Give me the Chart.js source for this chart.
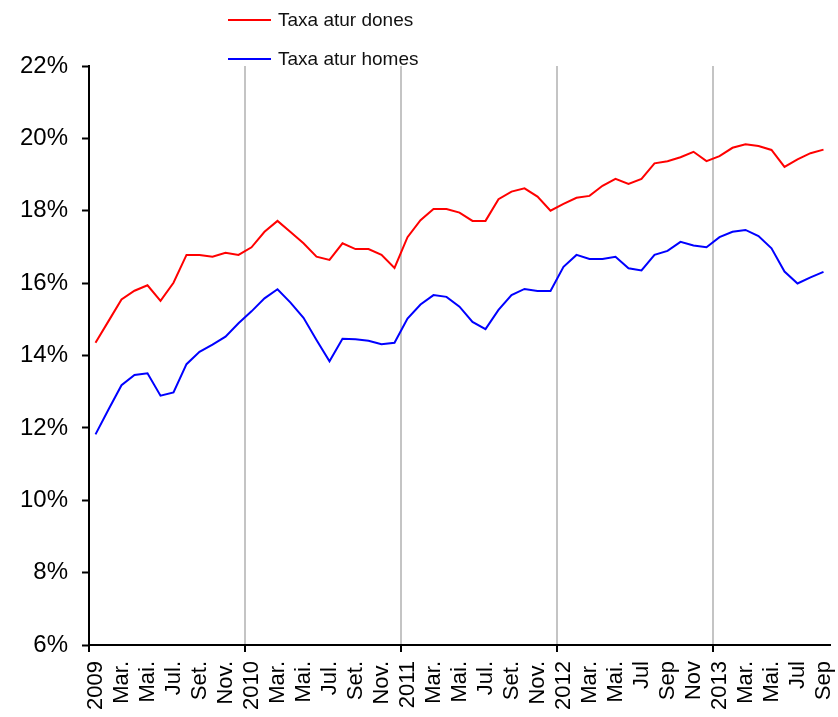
<!DOCTYPE html>
<html>
<head>
<meta charset="utf-8">
<script src="https://cdn.jsdelivr.net/npm/chart.js@4.4.1/dist/chart.umd.min.js"></script>
<style>
  body { margin: 0; background: #fff; }
  #wrap { width: 838px; height: 717px; position: relative; }
</style>
</head>
<body>
<div id="wrap"><canvas id="grafic"></canvas></div>
<script>
// Etiquetes de l'eix X (una de cada dos mensualitats, gener 2009 - setembre 2013)
const tickLabels = ['2009', 'Mar.', 'Mai.', 'Jul.', 'Set.', 'Nov.',
    '2010', 'Mar.', 'Mai.', 'Jul.', 'Set.', 'Nov.',
    '2011', 'Mar.', 'Mai.', 'Jul.', 'Set.', 'Nov.',
    '2012', 'Mar.', 'Mai.', 'Jul', 'Sep', 'Nov',
    '2013', 'Mar.', 'Mai.', 'Jul', 'Sep'];

// Taxa d'atur mensual (%)
const taxaDones = [14.35, 14.95, 15.55, 15.79, 15.94, 15.51, 16.01, 16.78, 16.78, 16.73, 16.84, 16.78,
    16.99, 17.42, 17.72, 17.41, 17.10, 16.73, 16.64, 17.10, 16.94, 16.94, 16.78, 16.42,
    17.27, 17.74, 18.05, 18.05, 17.95, 17.72, 17.72, 18.32, 18.53, 18.62, 18.39, 18.00,
    18.19, 18.36, 18.41, 18.69, 18.88, 18.74, 18.88, 19.31, 19.37, 19.48, 19.63, 19.37,
    19.51, 19.74, 19.84, 19.79, 19.68, 19.21, 19.42, 19.59, 19.69];

const taxaHomes = [11.82, 12.51, 13.18, 13.46, 13.51, 12.89, 12.98, 13.76, 14.10, 14.30, 14.52, 14.89,
    15.22, 15.58, 15.83, 15.46, 15.04, 14.43, 13.84, 14.46, 14.45, 14.41, 14.31, 14.35,
    15.02, 15.41, 15.67, 15.62, 15.35, 14.93, 14.73, 15.26, 15.67, 15.84, 15.78, 15.78,
    16.45, 16.78, 16.67, 16.67, 16.73, 16.41, 16.35, 16.78, 16.89, 17.14, 17.04, 16.99,
    17.27, 17.42, 17.47, 17.30, 16.96, 16.32, 15.99, 16.16, 16.31];

const yMin = 6;
const yMax = 22;
const yStep = 2;

// Una etiqueta per mes: només els mesos parells porten text
const labels = taxaDones.map((v, i) => (i % 2 === 0 ? tickLabels[i / 2] : ''));

const fontFamily = "'Liberation Sans', Arial, sans-serif";

// Llegenda dibuixada a mà (dues línies apilades a dalt)
const llegenda = {
    id: 'llegenda',
    afterDraw(chart) {
        const ctx = chart.ctx;
        ctx.save();
        ctx.font = '19px ' + fontFamily;
        ctx.textBaseline = 'middle';
        chart.data.datasets.forEach((ds, i) => {
            const y = 20 + i * 39;
            ctx.strokeStyle = ds.borderColor;
            ctx.lineWidth = 2;
            ctx.beginPath();
            ctx.moveTo(228, y);
            ctx.lineTo(271, y);
            ctx.stroke();
            ctx.fillStyle = '#111';
            ctx.fillText(ds.label, 278, y + 1);
        });
        ctx.restore();
    }
};

const config = {
    type: 'line',
    data: {
        labels: labels,
        datasets: [
            {
                label: 'Taxa atur dones',
                data: taxaDones,
                borderColor: '#ff0000',
                borderWidth: 2,
                pointRadius: 0,
                tension: 0,
            },
            {
                label: 'Taxa atur homes',
                data: taxaHomes,
                borderColor: '#0000ff',
                borderWidth: 2,
                pointRadius: 0,
                tension: 0,
            },
        ],
    },
    options: {
        responsive: true,
        maintainAspectRatio: false,
        animation: false,
        layout: {
            padding: { left: 0, top: 66, right: 8, bottom: 0 },
        },
        plugins: {
            legend: { display: false },
            tooltip: { enabled: false },
        },
        scales: {
            x: {
                offset: true,
                afterFit: (scale) => {
                    scale.height = 72;
                    // sense marge extra per les etiquetes dels extrems
                    scale.paddingLeft = 0;
                    scale.paddingRight = 0;
                },
                border: { color: '#000', width: 2 },
                grid: {
                    offset: true,
                    lineWidth: 2,
                    color: (c) => (c.index > 0 && c.index % 12 === 0 ? '#c4c4c4' : 'rgba(0,0,0,0)'),
                    tickColor: (c) => (c.index % 12 === 0 ? '#000' : 'rgba(0,0,0,0)'),
                    tickLength: 7,
                    tickWidth: 2,
                },
                ticks: {
                    autoSkip: false,
                    minRotation: 90,
                    maxRotation: 90,
                    padding: 9,
                    color: '#000',
                    font: { family: fontFamily, size: 22 },
                },
            },
            y: {
                min: yMin,
                max: yMax,
                afterFit: (scale) => { scale.width = 89; },
                border: { color: '#000', width: 2 },
                grid: {
                    drawOnChartArea: false,
                    tickLength: 7,
                    tickWidth: 2,
                    tickColor: '#000',
                },
                ticks: {
                    stepSize: yStep,
                    padding: 14,
                    color: '#000',
                    font: { family: fontFamily, size: 24 },
                    callback: (v) => v + '%',
                },
            },
        },
    },
    plugins: [llegenda],
};

const ctx = document.getElementById('grafic').getContext('2d');
const grafic = new Chart(ctx, config);
</script>
</body>
</html>
